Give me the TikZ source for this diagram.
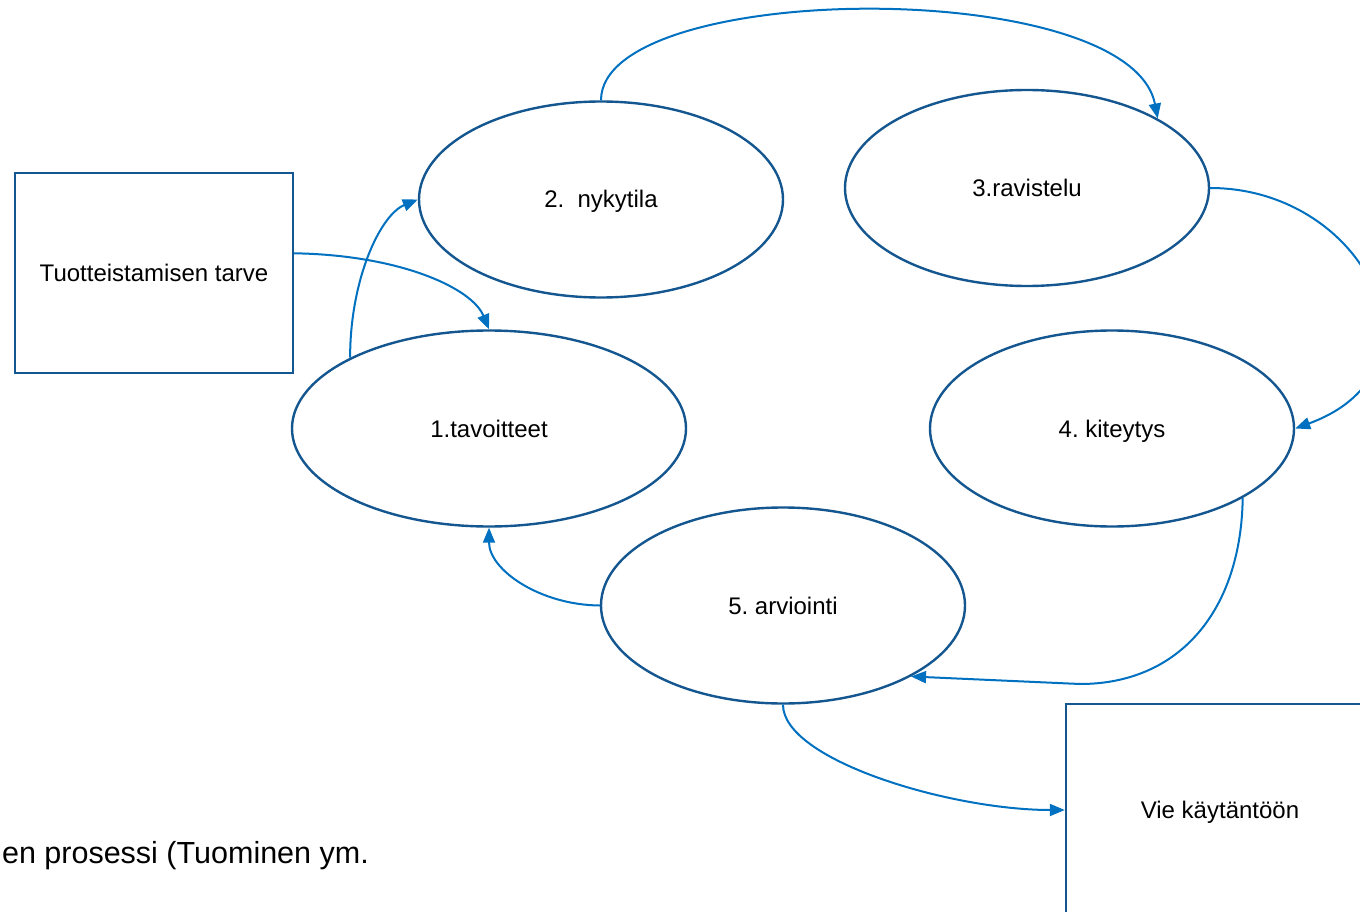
\documentclass[tikz,border=0pt]{standalone}
\usepackage{fontspec}
\setmainfont{Liberation Sans}
\usetikzlibrary{shapes.geometric,arrows.meta}
\definecolor{bord}{HTML}{14568F}
\definecolor{arr}{HTML}{0070C0}
\frenchspacing
\begin{document}
\begin{tikzpicture}[x=1pt,y=-1pt,
  lbl/.style={font=\fontsize{24}{28}\selectfont,text height=17pt,text depth=0pt},
  ell/.style={ellipse,draw=bord,line width=2.4pt,minimum width=364pt,minimum height=196pt,inner sep=0pt,lbl},
  box/.style={rectangle,draw=bord,line width=2.4pt,inner sep=0pt,lbl},
  conn/.style={draw=arr,line width=2pt,-{Triangle[length=15pt,width=12pt]}}]
\useasboundingbox (0,0) rectangle (1360,912);
\clip (0,0) rectangle (1360,912);
% boxes
\node[box,minimum width=278pt,minimum height=200pt] (r1) at (154,273) {Tuotteistamisen tarve};
\node[box,minimum width=308pt,minimum height=212pt] (r2) at (1220,810) {Vie käytäntöön};
% ellipses
\node[ell] (e2) at (601,199.5) {2.\ \ nykytila};
\node[ell] (e3) at (1027,188) {3.ravistelu};
\node[ell,minimum width=394pt] (e1) at (489,428.5) {1.tavoitteet};
\node[ell] (e4) at (1112,428.5) {4. kiteytys};
\node[ell] (e5) at (783,605.5) {5. arviointi};
% caption fragment
\node[font=\fontsize{30.5}{34}\selectfont,anchor=base east,inner sep=0pt] (cap) at (369,863) {en prosessi (Tuominen ym.};
% connectors
\draw[conn] (e2.north) .. controls (601,-20) and (1130,-25) .. (e3.28);
\draw[conn] (e3.east) .. controls (1365,188) and (1455,370) .. (e4.east);
\draw[conn] (e4.-28) .. controls (1241,610) and (1180,684) .. (1080,684) -- (e5.-29);
\draw[conn] (e5.west) .. controls (540,605) and (489,570) .. (e1.south);
\draw[conn] (e1.153) .. controls (350,280) and (380,215) .. (e2.west);
\draw[conn] (r1.8.6) .. controls (400,255) and (472,288) .. (e1.north);
\draw[conn] (e5.south) .. controls (783,760) and (950,810) .. (r2.west);
\end{tikzpicture}
\end{document}
